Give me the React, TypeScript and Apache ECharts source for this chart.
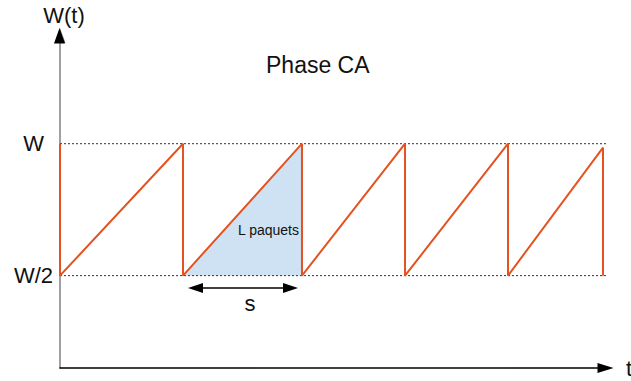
import React, { useEffect, useRef } from "react";
import * as echarts from "echarts";

// time axis (arbitrary units 0..100), window size values (W = 100, W/2 = 50)
const W_FULL = 100;
const W_HALF = 50;
const yTickValues = [W_HALF, W_FULL];
const yTickLabels: Record<number, string> = { 50: "W/2", 100: "W" };

// sawtooth of the congestion window
const sawT = [0, 0, 22.55, 22.55, 44.36, 44.36, 63.25, 63.25, 82.13, 82.13, 99.54, 99.54];
const sawW = [100, 50, 100, 50, 100, 50, 100, 50, 100, 50, 98.5, 50];

// shaded triangle = L paquets
const fillT = [22.55, 44.36, 44.36];
const fillW = [50, 100, 50];

// dotted reference lines
const topLineT = [0, 101.7];
const bottomLineT = [0, 102.3];

// period arrow "s"
const arrowT = [24.84, 42.25];
const arrowW = 45.3;

const FONT = "Liberation Sans, Arial, sans-serif";
const RED = "#e4521f";

export default function App() {
  const ref = useRef<HTMLDivElement>(null);
  useEffect(() => {
    document.body.style.margin = "0";
    if (!ref.current) return;
    const chart = echarts.init(ref.current, undefined, { renderer: "svg" });
    const zip = (a: number[], b: number[]) => a.map((v, i) => [v, b[i]]);
    chart.setOption({
      animation: false,
      textStyle: { fontFamily: FONT },
      grid: { left: 60, right: 25.5, top: 35.5, bottom: 13, outerBoundsMode: "none", containLabel: false },
      xAxis: {
        type: "value",
        min: 0,
        max: 100,
        name: "t",
        nameLocation: "end",
        nameGap: 20.5,
        nameTextStyle: { fontSize: 22, color: "#111", fontFamily: FONT, verticalAlign: "middle" },
        axisLine: { lineStyle: { color: "#000", width: 1.5 }, symbol: ["none", "triangle"], symbolSize: [10, 16] },
        axisTick: { show: false },
        axisLabel: { show: false },
        splitLine: { show: false },
      },
      yAxis: {
        type: "value",
        min: 15,
        max: 141,
        name: "W(t)",
        nameLocation: "end",
        nameGap: 20.5,
        nameTextStyle: {
          fontSize: 22,
          color: "#111",
          fontFamily: FONT,
          verticalAlign: "middle",
          align: "center",
          padding: [0, 0, 0, 8],
        },
        axisLine: { lineStyle: { color: "#808080", width: 1.5 }, symbol: ["none", "triangle"], symbolSize: [11, 15] },
        axisTick: { show: false },
        axisLabel: {
          customValues: yTickValues,
          formatter: (v: number) => yTickLabels[v] ?? "",
          fontSize: 22,
          color: "#111",
          fontFamily: FONT,
          align: "center",
          margin: 26.5,
        },
        splitLine: { show: false },
      },
      series: [
        {
          type: "line",
          data: zip(fillT, fillW),
          symbol: "none",
          lineStyle: { opacity: 0, width: 0 },
          areaStyle: { color: "#cfe2f3", opacity: 1, origin: W_HALF },
          silent: true,
          z: 1,
        },
        {
          type: "line",
          data: zip(topLineT, [W_FULL, W_FULL]),
          symbol: "none",
          clip: false,
          lineStyle: { color: "#333", width: 1, type: [2, 2] },
          silent: true,
          z: 2,
        },
        {
          type: "line",
          data: zip(bottomLineT, [W_HALF, W_HALF]),
          symbol: "none",
          clip: false,
          lineStyle: { color: "#333", width: 1, type: [2, 2] },
          silent: true,
          z: 2,
        },
        {
          type: "line",
          data: zip(sawT, sawW),
          symbol: "none",
          clip: false,
          lineStyle: { color: RED, width: 2 },
          silent: true,
          z: 3,
          markLine: {
            silent: true,
            symbol: ["triangle", "triangle"],
            symbolSize: [10, 15],
            label: { show: false },
            lineStyle: { color: "#000", width: 1.5, type: "solid" },
            data: [[{ coord: [arrowT[0], arrowW] }, { coord: [arrowT[1], arrowW] }]],
          },
        },
      ],
      graphic: [
        {
          type: "polygon",
          z: 100,
          shape: { points: [[54, 43.5], [65, 43.5], [59.5, 28]] },
          style: { fill: "#000" },
          silent: true,
        },
        {
          type: "text",
          x: 266,
          y: 64.5,
          style: { text: "Phase CA", fill: "#111", font: `23px ${FONT}`, verticalAlign: "middle" },
        },
        {
          type: "text",
          x: 238,
          y: 230,
          z: 10,
          style: { text: "L paquets", fill: "#111", font: `14px ${FONT}`, verticalAlign: "middle" },
        },
        {
          type: "text",
          x: 250,
          y: 303,
          style: { text: "s", fill: "#111", font: `22px ${FONT}`, align: "center", verticalAlign: "middle" },
        },
      ],
    });
    return () => chart.dispose();
  }, []);
  return <div ref={ref} style={{ width: 631, height: 381 }} />;
}
